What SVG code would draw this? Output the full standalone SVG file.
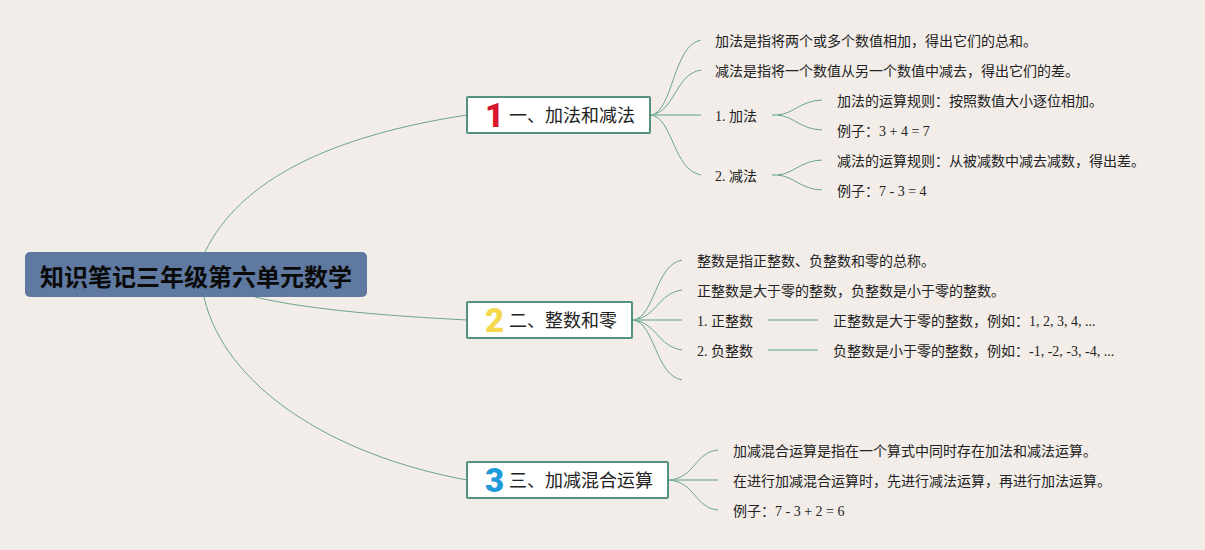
<svg xmlns="http://www.w3.org/2000/svg" width="1205" height="550" viewBox="0 0 1205 550">
<style>
text{font-family:"Liberation Serif","Noto Sans CJK SC",sans-serif;fill:#222}
.l{font-size:14px}
.t{font-size:18px}
.c{fill:none;stroke:#6aa590;stroke-width:1}
.s{fill:none;stroke:#8dbba9;stroke-width:1.5}
.b{fill:#fff;stroke:#55917f;stroke-width:2}
text.n{font-family:Roboto,sans-serif;font-weight:900;font-size:33px}
</style>
<rect width="1205" height="550" fill="#f2ede8"/>
<g id="connectors">
<path class="c" d="M205 252C240 180 330 136 467 115"/>
<path class="c" d="M255 297C310 310 390 316 467 320"/>
<path class="c" d="M204 297C224 385 330 455 467 480"/>
<path class="c" d="M651 115C673 112 673 45 701 40"/>
<path class="c" d="M651 115C675 112 675 74 701 70"/>
<path class="s" d="M651 115H701"/>
<path class="c" d="M651 115C673 118 673 170 701 175"/>
<path class="s" d="M772 115H780"/>
<path class="c" d="M778 115C795 113 800 101 822 100"/>
<path class="c" d="M778 115C795 117 800 129 822 130"/>
<path class="s" d="M772 175H780"/>
<path class="c" d="M778 175C795 173 800 161 822 160"/>
<path class="c" d="M778 175C795 177 800 189 822 190"/>
<path class="c" d="M633 320C655 317 655 265 682 260"/>
<path class="c" d="M633 320C657 317 657 294 682 290"/>
<path class="s" d="M633 320H682"/>
<path class="c" d="M633 320C657 323 657 346 682 350"/>
<path class="c" d="M633 320C655 323 655 375 682 380"/>
<path class="s" d="M768 320H818"/>
<path class="s" d="M768 350H818"/>
<path class="c" d="M669 480C695 478 695 452 718 450"/>
<path class="s" d="M669 480H718"/>
<path class="c" d="M669 480C695 482 695 508 718 510"/>
</g>
<g id="root"><rect x="25" y="252" width="342" height="45" rx="5" fill="#5f79a0"/>
<text x="40" y="286" style="font-family:'Noto Sans CJK SC',sans-serif;font-size:24px;font-weight:bold;fill:#0a0a0a">知识笔记三年级第六单元数学</text></g>
<g id="topic1"><rect class="b" x="467" y="97" width="183" height="36" rx="1"/>
<text class="n" x="485" y="127" style="fill:#d9182d">1</text>
<text class="t" x="509" y="122">一、加法和减法</text></g>
<g id="topic2"><rect class="b" x="467" y="302" width="165" height="36" rx="1"/>
<text class="n" x="485" y="332" style="fill:#f6d84e">2</text>
<text class="t" x="509" y="327">二、整数和零</text></g>
<g id="topic3"><rect class="b" x="467" y="462" width="201" height="36" rx="1"/>
<text class="n" x="485" y="492" style="fill:#1f9bdc">3</text>
<text class="t" x="509" y="487">三、加减混合运算</text></g>
<g id="n1"><text class="l" x="715" y="46">加法是指将两个或多个数值相加，得出它们的总和。</text></g>
<g id="n2"><text class="l" x="715" y="76">减法是指将一个数值从另一个数值中减去，得出它们的差。</text></g>
<g id="n3"><text class="l" x="715" y="121">1. 加法</text></g>
<g id="n4"><text class="l" x="715" y="181">2. 减法</text></g>
<g id="n5"><text class="l" x="837" y="106">加法的运算规则：按照数值大小逐位相加。</text></g>
<g id="n6"><text class="l" x="837" y="136">例子：3 + 4 = 7</text></g>
<g id="n7"><text class="l" x="837" y="166">减法的运算规则：从被减数中减去减数，得出差。</text></g>
<g id="n8"><text class="l" x="837" y="196">例子：7 - 3 = 4</text></g>
<g id="n9"><text class="l" x="697" y="266">整数是指正整数、负整数和零的总称。</text></g>
<g id="n10"><text class="l" x="697" y="296">正整数是大于零的整数，负整数是小于零的整数。</text></g>
<g id="n11"><text class="l" x="697" y="326">1. 正整数</text></g>
<g id="n12"><text class="l" x="697" y="356">2. 负整数</text></g>
<g id="n13"><text class="l" x="833" y="326">正整数是大于零的整数，例如：1, 2, 3, 4, ...</text></g>
<g id="n14"><text class="l" x="833" y="356">负整数是小于零的整数，例如：-1, -2, -3, -4, ...</text></g>
<g id="n15"><text class="l" x="733" y="456">加减混合运算是指在一个算式中同时存在加法和减法运算。</text></g>
<g id="n16"><text class="l" x="733" y="486">在进行加减混合运算时，先进行减法运算，再进行加法运算。</text></g>
<g id="n17"><text class="l" x="733" y="516">例子：7 - 3 + 2 = 6</text></g>
</svg>
